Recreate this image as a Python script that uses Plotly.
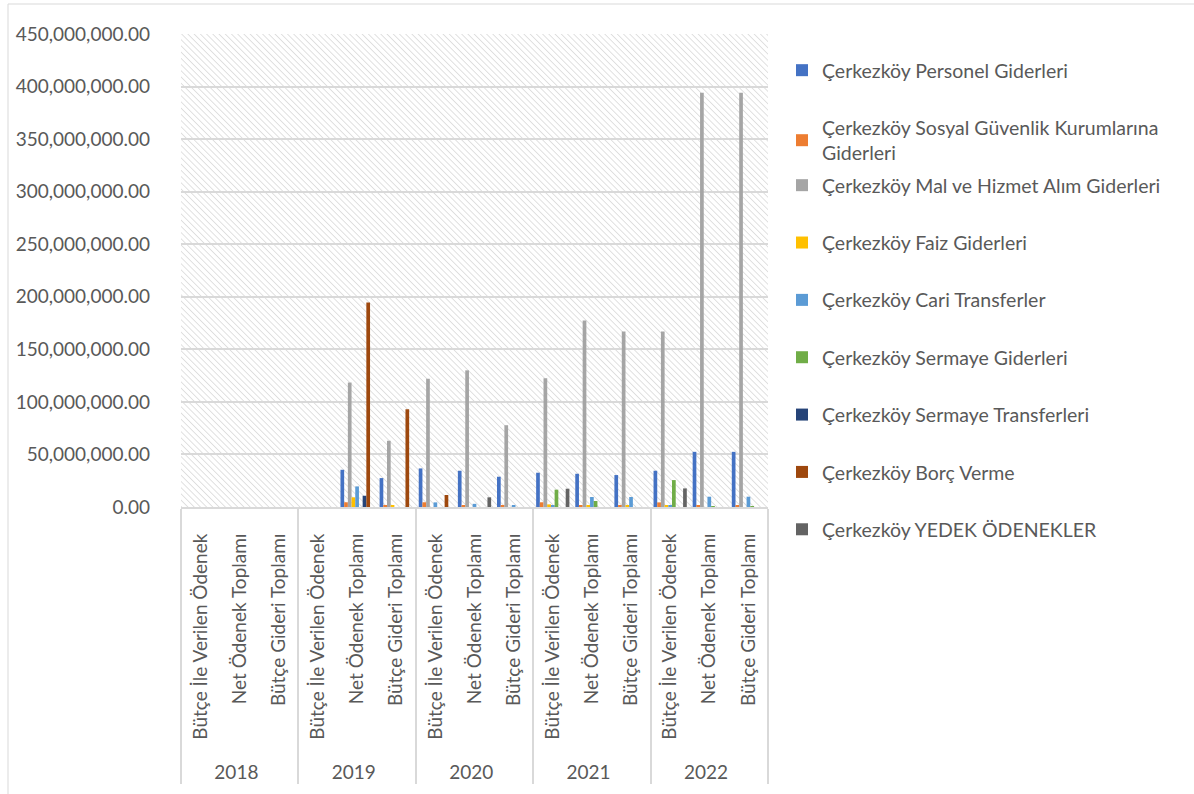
import base64
import plotly.graph_objects as go

# Category structure: budget year x budget line
years = ["2018", "2019", "2020", "2021", "2022"]
stages = ["\u00a0\u00a0\u00a0\u00a0Bütçe İle Verilen Ödenek", "Net Ödenek Toplamı", "Bütçe Gideri Toplamı"]

# Expense items (TL), ordered 2018..2022, each year: verilen / net / gider
personel = [0, 0, 0, 0, 35.4e6, 27.5e6, 36.7e6, 34.5e6, 28.8e6, 32.6e6, 31.6e6, 30.4e6, 34.5e6, 52.5e6, 52.5e6]
sgk = [0, 0, 0, 0, 4.5e6, 1.2e6, 4.5e6, 1.5e6, 1.0e6, 4.5e6, 1.2e6, 1.0e6, 4.4e6, 1.5e6, 1.2e6]
mal_hizmet = [0, 0, 0, 0, 118.4e6, 63.0e6, 122.0e6, 130.0e6, 77.8e6, 122.5e6, 177.5e6, 167.0e6, 167.0e6, 394.0e6, 394.0e6]
faiz = [0, 0, 0, 0, 9.2e6, 1.0e6, 0, 0, 0, 2.5e6, 1.0e6, 1.0e6, 1.0e6, 0, 0]
cari = [0, 0, 0, 0, 19.6e6, 0, 4.4e6, 3.0e6, 1.5e6, 1.5e6, 9.5e6, 9.5e6, 1.5e6, 9.8e6, 9.8e6]
sermaye_gid = [0, 0, 0, 0, 0, 0, 0, 0, 0, 16.5e6, 5.7e6, 0, 25.6e6, 0.5e6, 0.5e6]
sermaye_tr = [0, 0, 0, 0, 10.7e6, 0, 0, 0, 0, 0, 0, 0, 0, 0, 0]
borc = [0, 0, 0, 0, 194.6e6, 93.0e6, 11.4e6, 0, 0, 0, 0, 0, 0, 0, 0]
yedek = [0, 0, 0, 0, 0, 0, 0, 9.2e6, 0, 17.4e6, 0, 0, 17.7e6, 0, 0]

series = [
    ("Çerkezköy Personel Giderleri", personel, "#4472C4"),
    ("Çerkezköy Sosyal Güvenlik Kurumlarına<br>Giderleri", sgk, "#ED7D31"),
    ("Çerkezköy Mal ve Hizmet Alım Giderleri", mal_hizmet, "#A5A5A5"),
    ("Çerkezköy Faiz Giderleri", faiz, "#FFC000"),
    ("Çerkezköy Cari Transferler", cari, "#5B9BD5"),
    ("Çerkezköy Sermaye Giderleri", sermaye_gid, "#70AD47"),
    ("Çerkezköy Sermaye Transferleri", sermaye_tr, "#264478"),
    ("Çerkezköy Borç Verme", borc, "#9E480E"),
    ("Çerkezköy YEDEK ÖDENEKLER", yedek, "#636363"),
]

x_outer = [y for y in years for _ in stages]
x_inner = [s for _ in years for s in stages]

FONT = "Lato"
TEXT = "#595959"

# plot area in pixels
L, R, T, B = 181, 768, 34, 507
W, H = 1194, 794
PW, PH = R - L, B - T

fig = go.Figure()
for i, (name, vals, color) in enumerate(series):
    fig.add_trace(go.Bar(
        x=[x_outer, x_inner], y=vals, name=name,
        marker=dict(color=color, line=dict(width=0)),
        legendgroup=f"g{i}",
        legend="legend" if i < 2 else "legend2",
    ))

# diagonal hatch for the plot background
svg = (
    f'<svg xmlns="http://www.w3.org/2000/svg" width="{PW}" height="{PH}">'
    '<defs><pattern id="h" width="4.4" height="4.4" patternUnits="userSpaceOnUse" '
    'patternTransform="rotate(-45)">'
    '<line x1="0" y1="0" x2="0" y2="4.4" stroke="#d4d4d4" stroke-width="1.4"/>'
    '</pattern></defs>'
    f'<rect width="{PW}" height="{PH}" fill="white"/>'
    f'<rect width="{PW}" height="{PH}" fill="url(#h)"/></svg>'
)
src = "data:image/svg+xml;base64," + base64.b64encode(svg.encode("utf-8")).decode("ascii")
fig.add_layout_image(dict(
    source=src, xref="paper", yref="paper", x=0, y=1, sizex=1, sizey=1,
    sizing="stretch", layer="below", xanchor="left", yanchor="top",
))


def px_x(p):
    return (p - L) / PW


def px_y(p):
    return (B - p) / PH


# chart frame
fig.add_shape(type="rect", xref="paper", yref="paper",
              x0=px_x(8), x1=px_x(1200), y0=px_y(4), y1=px_y(800),
              line=dict(color="#D9D9D9", width=1), fillcolor="rgba(0,0,0,0)", layer="below")

legend_style = dict(
    xanchor="left", yanchor="top",
    font=dict(family=FONT, size=19.5, color=TEXT),
    tracegroupgap=29, bgcolor="rgba(0,0,0,0)", maxheight=760,
)

fig.update_layout(
    width=W, height=H,
    margin=dict(l=L, r=W - R, t=T, b=H - B, autoexpand=False),
    paper_bgcolor="white", plot_bgcolor="rgba(0,0,0,0)",
    barmode="group", bargap=0.15, bargroupgap=0,
    font=dict(family=FONT, color=TEXT, size=19),
    showlegend=True,
    legend=dict(x=px_x(782), y=px_y(51), **legend_style),
    legend2=dict(x=px_x(782), y=px_y(166), **legend_style),
)

fig.update_xaxes(
    type="multicategory", tickangle=-90,
    tickfont=dict(family=FONT, size=19, color=TEXT),
    showgrid=False, showline=True, linecolor="#D9D9D9", linewidth=2,
    showdividers=True, dividercolor="#D9D9D9", dividerwidth=2,
    ticks="", ticklabelstandoff=17, automargin=False,
)
fig.update_yaxes(
    range=[0, 450e6], dtick=50e6, tickformat=",.2f",
    tickfont=dict(family=FONT, size=19, color=TEXT),
    showgrid=True, gridcolor="#D9D9D9", gridwidth=2,
    zeroline=False, showline=False, ticks="",
    ticklabelstandoff=30, automargin=False,
)

fig.write_html("out.html")
